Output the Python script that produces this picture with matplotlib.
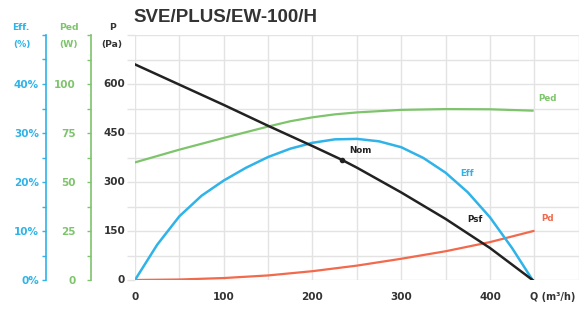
import matplotlib
matplotlib.use("Agg")
import matplotlib.pyplot as plt
from matplotlib.ticker import MultipleLocator

# ---- data ----
q_psf = [0, 50, 100, 150, 200, 233, 250, 300, 350, 400, 448]
psf = [660, 598, 536, 472, 410, 368, 344, 268, 187, 98, 0]

q_eff = [0, 25, 50, 75, 100, 125, 150, 175, 200, 225, 250, 275, 300, 325, 350, 375, 400, 425, 448]
eff = [0, 7.2, 13.0, 17.2, 20.3, 22.9, 25.1, 26.8, 28.0, 28.7, 28.8, 28.3, 27.1, 24.9, 21.9, 17.9, 12.8, 6.5, 0]

q_ped = [0, 50, 100, 150, 175, 200, 225, 250, 300, 350, 400, 448]
ped = [60, 66.5, 72.5, 78.3, 81.0, 83.0, 84.5, 85.5, 86.8, 87.2, 87.1, 86.4]

q_pd = [0, 50, 100, 150, 200, 250, 300, 350, 400, 449]
pd = [0, 1.5, 6, 14, 27, 44, 65, 88, 116, 150]

nom_point = (233, 368)

x_ticks = [0, 100, 200, 300, 400]
p_ticks = [0, 150, 300, 450, 600]
eff_ticks = [0, 10, 20, 30, 40]
ped_ticks = [0, 25, 50, 75, 100]

title = "SVE/PLUS/EW-100/H"

BLUE = "#2fb3e8"
GREEN = "#7ec46c"
RED = "#f2694c"
BLACK = "#222222"
GRID = "#e3e3e3"
TXT = "#333333"

W, H = 579, 311
fig = plt.figure(figsize=(W / 100, H / 100), dpi=100)

left_px, right_px, top_px, bot_px = 135, 578.7, 35, 280
pos = [left_px / W, 1 - bot_px / H, (right_px - left_px) / W, (bot_px - top_px) / H]
ax = fig.add_axes(pos)
ax.set_xlim(0, 500)
ax.set_ylim(0, 750)
ax.xaxis.set_major_locator(MultipleLocator(50))
ax.yaxis.set_major_locator(MultipleLocator(75))
ax.grid(True, color=GRID, lw=1)
ax.set_axisbelow(True)
for s in ax.spines.values():
    s.set_visible(False)
ax.tick_params(axis="x", length=0, labelbottom=False)
ax.tick_params(axis="y", length=6, color=GRID, width=1, labelleft=False)

fnt = dict(family="DejaVu Sans", weight="bold")

# x tick labels
for v in x_ticks:
    ax.text(v, -52, str(v), ha="center", va="center", fontsize=7.5, color=TXT, clip_on=False, **fnt)
ax.text(471, -52, "Q (m³/h)", ha="center", va="center", fontsize=7, color=TXT, clip_on=False, **fnt)
# P tick labels
for v in p_ticks:
    ax.text(-11, v, str(v), ha="right", va="center", fontsize=7.5, color=TXT, clip_on=False, **fnt)

# curves
ax.plot(q_ped, [v * 6 for v in ped], color=GREEN, lw=1.6, zorder=3)
ax.plot(q_pd, pd, color=RED, lw=1.6, zorder=3)
ax.plot(q_eff, [v * 15 for v in eff], color=BLUE, lw=1.8, zorder=4)
ax.plot(q_psf, psf, color=BLACK, lw=1.8, zorder=5)
ax.plot([nom_point[0]], [nom_point[1]], "o", color=BLACK, ms=3, zorder=6)

# curve labels
lab = dict(fontsize=6.3, **fnt)
ax.text(254, 395, "Nom", color=BLACK, ha="center", va="center", **lab)
ax.text(374, 326, "Eff", color=BLUE, ha="center", va="center", **lab)
ax.text(383, 185, "Psf", color=BLACK, ha="center", va="center", **lab)
ax.text(465, 188, "Pd", color=RED, ha="center", va="center", **lab)
ax.text(465, 557, "Ped", color=GREEN, ha="center", va="center", **lab)

# extra axes: Eff (%) and Ped (W)
ax_w = right_px - left_px
def side_axis(px, ymax, ticks, color, fmt, pad):
    a = fig.add_axes(pos, facecolor="none")
    a.set_xlim(0, 1)
    a.set_ylim(0, ymax)
    a.set_xticks([])
    for k in ("top", "right", "bottom"):
        a.spines[k].set_visible(False)
    a.spines["left"].set_position(("axes", (px - left_px) / ax_w))
    a.spines["left"].set_color(color)
    a.spines["left"].set_linewidth(1.2)
    a.set_yticks(ticks)
    a.set_yticklabels([fmt(t) for t in ticks], color=color, fontsize=7.5, **fnt)
    a.yaxis.set_minor_locator(MultipleLocator((ticks[1] - ticks[0]) / 2))
    a.tick_params(axis="y", which="both", length=3, color=color, width=1, pad=pad)
    a.patch.set_visible(False)
    return a

side_axis(46, 50, eff_ticks, BLUE, lambda t: f"{t}%", 2)
side_axis(91, 125, ped_ticks, GREEN, lambda t: f"{t}", 8)

# header labels
hdr = dict(fontsize=6.7, ha="center", va="center", **fnt)
fig.text(21 / W, 1 - 28 / H, "Eff.", color=BLUE, **hdr)
fig.text(22 / W, 1 - 44 / H, "(%)", color=BLUE, **hdr)
fig.text(69 / W, 1 - 28 / H, "Ped", color=GREEN, **hdr)
fig.text(69 / W, 1 - 44 / H, "(W)", color=GREEN, **hdr)
fig.text(113 / W, 1 - 28 / H, "P", color=TXT, **hdr)
fig.text(112 / W, 1 - 44 / H, "(Pa)", color=TXT, **hdr)

fig.text(133 / W, 1 - 18 / H, title, ha="left", va="center", fontsize=13.5,
         family="Liberation Sans", weight="bold", color=TXT)

fig.savefig("out.png", dpi=100)
